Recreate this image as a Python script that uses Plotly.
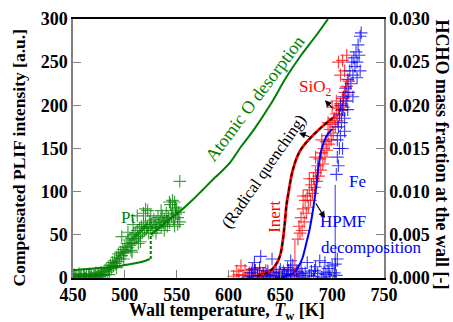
import plotly.graph_objects as go

# ---------------- data ----------------
# Pt (green) scatter: wall temperature [K], PLIF intensity [a.u.]
pt_T = [450, 451, 452, 453, 455, 456, 457, 458, 460, 461, 462, 463, 465, 466, 467, 468,
        470, 471, 472, 473, 474, 475, 476, 477, 478, 479,
        480, 481, 482, 483, 484, 485, 486, 487, 488, 489, 490, 491, 492, 493, 494, 495,
        496, 497, 498, 499, 500, 501, 502, 503, 504, 505, 506, 507, 508, 509, 510, 511,
        512, 513, 514, 515, 516, 517, 518, 519, 520, 521, 522, 523, 524, 525, 526, 527,
        528, 529, 530, 531, 532, 533, 534, 535, 536, 537, 538, 539, 540, 541, 542, 543,
        544, 545, 546, 547, 548, 549, 550, 551, 552, 553,
        553, 507, 515, 497, 503, 520, 518, 525, 538, 548, 551, 508, 512, 522, 535, 543, 546,
        485, 492, 499, 506, 513, 530, 541, 549]
pt_I = [2, 4, 1, 3, 2, 5, 1, 3, 2, 4, 0, 3, 2, 5, 1, 3,
        2, 4, 6, 1, 3, 5, 2, 7, 4, 3,
        8, 4, 10, 7, 12, 9, 15, 11, 18, 14, 20, 17, 24, 19, 28, 22,
        30, 26, 33, 29, 36, 31, 40, 35, 44, 38, 46, 41, 50, 44, 52, 46,
        55, 48, 58, 50, 60, 53, 62, 55, 64, 57, 60, 52, 66, 58, 62, 55,
        68, 60, 64, 58, 70, 62, 66, 60, 72, 64, 68, 62, 75, 66, 70, 64,
        85, 72, 78, 68, 88, 74, 80, 70, 76, 65,
        112, 30, 42, 48, 53, 80, 75, 72, 55, 60, 62, 62, 72, 78, 78, 88, 90,
        4, 12, 22, 32, 40, 52, 60, 82]

# SiO2 (red) scatter
si_T = [605, 608, 610, 612, 614, 616, 618, 620, 622, 625, 628, 630, 633, 636, 640, 643,
        646, 650, 653, 656, 660, 663, 666,
        667, 668, 669, 670, 671, 672, 673, 674, 675, 676, 677, 678, 679, 680, 681, 682,
        683, 684, 685, 686, 687, 688, 689, 690, 691, 692, 693, 694, 695, 696, 697, 698,
        699, 700, 701, 702, 703, 704, 705, 706, 707, 708, 709, 710, 711, 712, 713, 714,
        715, 716, 712, 706, 708, 710, 714, 704, 700, 696, 690, 684, 678, 672]
si_I = [2, 8, 4, 14, 3, 9, 1, 6, 3, 11, 2, 7, 4, 9, 3, 6,
        2, 5, 8, 3, 10, 4, 8,
        45, 60, 52, 70, 55, 80, 65, 90, 75, 95, 82, 102, 90, 108, 98, 115,
        105, 122, 112, 130, 118, 138, 125, 145, 132, 150, 140, 158, 148, 165, 155, 172,
        160, 178, 168, 185, 175, 190, 182, 196, 188, 202, 194, 208, 198, 215, 205, 222,
        212, 228, 240, 250, 235, 252, 258, 205, 198, 180, 160, 140, 115, 95]

# Fe (blue) scatter
fe_T = [620, 622, 624, 626, 628, 630, 632, 634, 636, 638, 640, 642, 644, 646, 648, 650,
        652, 654, 656, 658, 660, 662, 664, 666, 668, 670, 672, 674, 676, 678, 680, 682,
        684, 686, 688, 690, 692, 694, 696, 698, 700, 702, 704, 705, 631, 625, 660, 693,
        623, 637, 649, 657, 671, 683, 697, 703,
        704, 705, 706, 705, 706, 707, 707, 708, 708, 709, 710, 711, 712, 713, 714, 715,
        716, 717, 718, 719, 720, 721, 722, 723, 724, 725, 726, 727, 728, 727, 724, 720,
        715, 712, 710]
fe_I = [2, 6, 1, 9, 3, 12, 2, 5, 1, 8, 3, 22, 2, 6, 0, 10,
        3, 5, 1, 9, 4, 15, 2, 7, 3, 11, 1, 6, 18, 3, 8, 2,
        13, 5, 20, 1, 7, 4, 11, 2, 14, 6, 3, 22, 25, 18, 20, 18,
        10, 4, 7, 12, 5, 9, 6, 16,
        120, 140, 130, 160, 175, 150, 190, 165, 200, 180, 195, 210, 185, 220, 205, 230,
        215, 240, 225, 250, 235, 255, 245, 262, 250, 270, 258, 280, 284, 240, 232, 210,
        195, 170, 150]

# model lines
o_des_low_T = [450, 460, 470, 480, 490, 500, 510, 520, 524]
o_des_low_I = [9, 10, 11, 12, 13, 15, 17, 20, 22]
o_des_jump_T = [525, 525]
o_des_jump_I = [22, 50]
o_des_high_T = [525, 535, 545, 553, 565, 575, 585, 592, 601, 612, 624, 640, 656, 670, 684, 696]
o_des_high_I = [50, 60, 70, 77, 90, 102, 114, 122, 133, 152, 171, 200, 233, 258, 280, 300]

inert_T = [628, 635, 642, 647, 650, 652, 654, 656, 658, 662, 668, 675, 683, 691, 698, 703]
inert_I = [2, 5, 10, 18, 27, 40, 60, 85, 100, 125, 145, 157, 167, 176, 183, 187]

hpmf_T = [645, 652, 658, 663, 667, 671, 675, 678, 681, 684, 687, 690, 694, 698, 700]
hpmf_I = [0, 1, 3, 6, 12, 22, 40, 55, 75, 100, 130, 150, 163, 170, 172]

fe_drop_T = [703, 703]
fe_drop_I = [0, 108]
si_drop_T = [664, 664]
si_drop_I = [0, 44]

x_ticks = [450, 500, 550, 600, 650, 700, 750]
y_ticks = [0, 50, 100, 150, 200, 250, 300]
y2_ticks = [0.000, 0.005, 0.010, 0.015, 0.020, 0.025, 0.030]

GREEN = "rgb(0,128,0)"
RED = "rgb(255,0,0)"
BLUE = "rgb(0,0,255)"
FONT = "Liberation Serif, Times New Roman, serif"

fig = go.Figure()

def marks(T, I, color):
    fig.add_trace(go.Scatter(
        x=T, y=I, mode="markers", showlegend=False,
        marker=dict(symbol="cross-thin-open", size=9, opacity=0.75, color=color,
                    line=dict(color=color, width=1.15))))

marks(pt_T, pt_I, GREEN)
marks(si_T, si_I, RED)
marks(fe_T, fe_I, BLUE)

def line(T, I, color, width, dash="solid", opacity=1.0):
    fig.add_trace(go.Scatter(x=T, y=I, mode="lines", showlegend=False, opacity=opacity,
                             line=dict(color=color, width=width, dash=dash, shape="spline")))

line(o_des_low_T, o_des_low_I, GREEN, 2)
line(o_des_jump_T, o_des_jump_I, GREEN, 2, dash="3px,2px")
line(o_des_high_T, o_des_high_I, GREEN, 2)
line(inert_T, inert_I, RED, 2.8)
line(inert_T, inert_I, "black", 1.6, dash="4px,3px")
line(hpmf_T, hpmf_I, BLUE, 2)
line(fe_drop_T, fe_drop_I, BLUE, 1.5, opacity=0.55)
line(si_drop_T, si_drop_I, RED, 1.5, opacity=0.55)

# dummy trace on secondary axis
fig.add_trace(go.Scatter(x=[450], y=[0], yaxis="y2", mode="markers",
                         marker=dict(opacity=0), showlegend=False, hoverinfo="skip"))

ann = []
def txt(x, y, s, color, size=16, angle=0):
    ann.append(dict(x=x, y=y, xref="x", yref="y", text=s, showarrow=False,
                    textangle=angle, font=dict(family=FONT, size=size, color=color)))

txt(626, 208, "Atomic O desorption", GREEN, 18, -53)
txt(634, 123, "(Radical quenching)", "black", 16.5, -55)
txt(683, 220, "SiO<sub>2</sub>", RED, 17)
txt(645, 71, "Inert", RED, 17, -90)
txt(724, 112, "Fe", BLUE, 17)
txt(710, 65, "HPMF", BLUE, 17)
txt(738, 35, "decomposition", BLUE, 17)
txt(503, 70, "Pt", GREEN, 17)

def arrow(tx, ty, hx, hy):
    ann.append(dict(x=hx, y=hy, ax=tx, ay=ty, xref="x", yref="y", axref="x", ayref="y",
                    text="", showarrow=True, arrowhead=2, arrowsize=1.1, arrowwidth=1.2,
                    arrowcolor="black", standoff=0, startstandoff=0))

arrow(701.7, 195, 693, 206)
arrow(679.5, 163, 668, 168)
arrow(683.4, 88, 693, 69.5)

# axis titles
bold = dict(family=FONT, size=17, color="black", weight="bold")
ann.append(dict(xref="paper", yref="paper", x=0.5, y=0, yshift=-33, xshift=-2,
                text="Wall temperature, <i>T</i><sub>w</sub> [K]", showarrow=False,
                yanchor="middle", font=dict(bold, size=18)))
ann.append(dict(xref="paper", yref="paper", x=0, y=0.5, xshift=-55, yshift=-10,
                text="Compensated PLIF intensity [a.u.]", showarrow=False, textangle=-90,
                xanchor="center", font=dict(bold, size=17.5)))
ann.append(dict(xref="paper", yref="paper", x=1, y=0.5, xshift=58, yshift=-6,
                text="HCHO mass fraction at the wall [-]", showarrow=False, textangle=90,
                xanchor="center", font=dict(bold, size=18)))

tickfont = dict(family=FONT, size=18, color="black", weight="bold")
fig.update_layout(
    width=453, height=322,
    margin=dict(l=73, r=69, t=19, b=44, autoexpand=False),
    paper_bgcolor="white", plot_bgcolor="white",
    annotations=ann,
    font=dict(family=FONT),
    xaxis=dict(range=[450, 750], tickvals=x_ticks, ticks="inside", ticklen=8, tickcolor="gray",
               showline=True, linecolor="black", linewidth=1.5, mirror=True, showgrid=False,
               zeroline=False, tickfont=tickfont, automargin=False),
    yaxis=dict(range=[0, 300], tickvals=y_ticks, ticks="inside", ticklen=8, tickcolor="gray",
               showline=True, linecolor="gray", linewidth=1.5, showgrid=False, zeroline=False,
               tickfont=tickfont, automargin=False),
    yaxis2=dict(range=[0, 0.03], tickvals=y2_ticks, tickformat=".3f", overlaying="y", side="right",
                ticks="inside", ticklen=8, tickcolor="gray", showline=True, linecolor="gray",
                linewidth=1.5, showgrid=False, zeroline=False, tickfont=tickfont,
                automargin=False),
)

fig.write_html("out.html", config={"displayModeBar": False},
               post_script="document.body.style.margin='0';document.body.style.padding='0';"
                           "document.documentElement.style.overflow='hidden';")
